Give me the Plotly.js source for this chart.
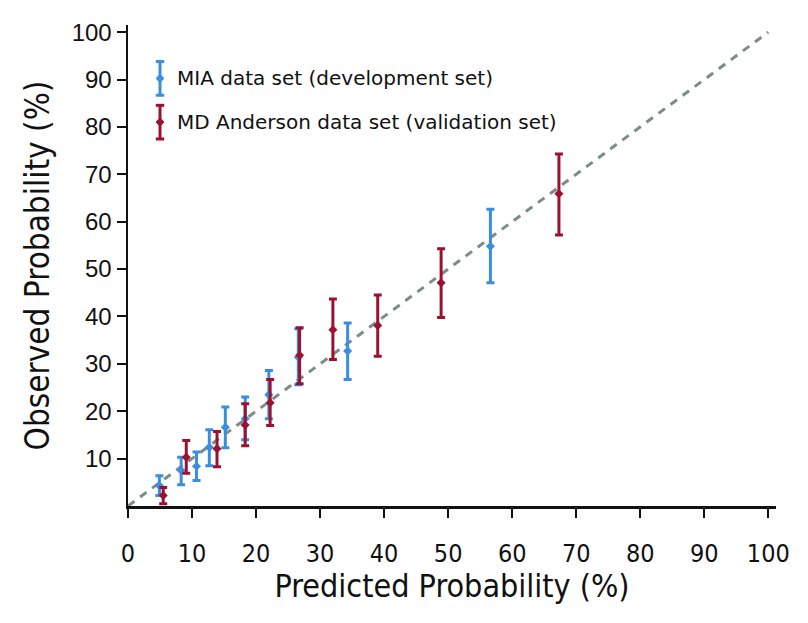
<!DOCTYPE html>
<html>
<head>
<meta charset="utf-8">
<script src="https://cdn.plot.ly/plotly-3.0.1.min.js"></script>
<style>
  html, body { margin: 0; padding: 0; background: #fff; }
  #chart { width: 808px; height: 623px; }
</style>
</head>
<body>
<div id="chart"></div>
<script>
// MIA data set (development set)
const miaPred = [4.9, 8.3, 10.7, 12.7, 15.2, 18.3, 22.0, 26.6, 34.3, 56.6];
const miaObs  = [4.3, 7.5, 8.4, 12.4, 16.6, 18.4, 23.5, 31.4, 32.7, 54.8];
const miaHigh = [6.4, 10.3, 11.4, 16.1, 20.9, 23.0, 28.6, 37.4, 38.6, 62.6];
const miaLow  = [2.2, 4.5, 5.4, 8.5, 12.3, 14.0, 18.4, 25.6, 26.7, 47.1];

// MD Anderson data set (validation set)
const mdaPred = [5.5, 9.1, 13.9, 18.3, 22.2, 26.8, 32.0, 39.0, 48.9, 67.3];
const mdaObs  = [2.2, 10.3, 12.1, 17.1, 21.8, 31.8, 37.2, 38.1, 47.1, 65.9];
const mdaHigh = [3.9, 13.8, 15.7, 21.6, 26.7, 37.6, 43.7, 44.5, 54.3, 74.3];
const mdaLow  = [0.5, 6.9, 8.3, 12.7, 17.0, 25.8, 30.9, 31.6, 39.8, 57.2];

// perfect calibration line
const diagonal = [0, 100];

const xTicks = [0, 10, 20, 30, 40, 50, 60, 70, 80, 90, 100];
const yTicks = [10, 20, 30, 40, 50, 60, 70, 80, 90, 100];

const seriesNames = ['MIA data set (development set)', 'MD Anderson data set (validation set)'];

const BLUE = '#3a8ee0';
const RED = '#9b1230';
const seriesColors = [BLUE, RED];

function errorBars(obs, high, low, color) {
  return {
    type: 'data',
    symmetric: false,
    array: high.map((h, i) => h - obs[i]),
    arrayminus: low.map((l, i) => obs[i] - l),
    color: color,
    thickness: 3,
    width: 4
  };
}

const traces = [
  {
    x: diagonal, y: diagonal,
    type: 'scatter', mode: 'lines',
    line: {color: '#7c8c88', width: 3, dash: '8px,7px'},
    hoverinfo: 'skip'
  },
  {
    x: miaPred, y: miaObs,
    type: 'scatter', mode: 'markers',
    name: seriesNames[0],
    marker: {symbol: 'diamond', size: 7, color: BLUE},
    error_y: errorBars(miaObs, miaHigh, miaLow, BLUE)
  },
  {
    x: mdaPred, y: mdaObs,
    type: 'scatter', mode: 'markers',
    name: seriesNames[1],
    marker: {symbol: 'diamond', size: 7, color: RED},
    error_y: errorBars(mdaObs, mdaHigh, mdaLow, RED)
  }
];

// hand-made legend: error-bar glyph (shapes) + label (annotation), paper coords
const legendX = 0.0494;      // glyph centre
const legendTextX = 0.0725;
const legendRows = [0.889, 0.798];
const glyphHalf = 0.035, capHalf = 0.0065, dHalfX = 0.0062, dHalfY = 0.0083;

const shapes = [];
const annotations = [];
legendRows.forEach((ly, i) => {
  const c = seriesColors[i];
  const line = {color: c, width: 3};
  shapes.push({type: 'line', xref: 'paper', yref: 'paper',
    x0: legendX, x1: legendX, y0: ly - glyphHalf, y1: ly + glyphHalf, line: line});
  shapes.push({type: 'line', xref: 'paper', yref: 'paper',
    x0: legendX - capHalf, x1: legendX + capHalf, y0: ly + glyphHalf, y1: ly + glyphHalf, line: line});
  shapes.push({type: 'line', xref: 'paper', yref: 'paper',
    x0: legendX - capHalf, x1: legendX + capHalf, y0: ly - glyphHalf, y1: ly - glyphHalf, line: line});
  shapes.push({type: 'path', xref: 'paper', yref: 'paper',
    path: `M ${legendX - dHalfX},${ly} L ${legendX},${ly + dHalfY} L ${legendX + dHalfX},${ly} L ${legendX},${ly - dHalfY} Z`,
    fillcolor: c, line: {color: c, width: 1}});
  annotations.push({
    xref: 'paper', yref: 'paper', x: legendTextX, y: ly,
    xanchor: 'left', yanchor: 'middle', showarrow: false,
    text: seriesNames[i],
    font: {family: '"DejaVu Sans", Arial, sans-serif', size: 20, color: '#111'}
  });
});

const condensed = '"Liberation Sans Narrow", "DejaVu Sans Condensed", Arial, sans-serif';

const layout = {
  width: 808,
  height: 623,
  margin: {l: 128, r: 32, t: 25, b: 117},
  paper_bgcolor: '#fff',
  plot_bgcolor: '#fff',
  showlegend: false,
  shapes: shapes,
  annotations: annotations,
  xaxis: {
    range: [0, 101.2],
    tickvals: xTicks,
    ticks: 'outside', ticklen: 9, tickwidth: 2, tickcolor: '#111',
    showline: true, linewidth: 2.5, linecolor: '#111',
    showgrid: false, zeroline: false,
    ticklabelstandoff: 14,
    tickfont: {family: condensed, size: 25, color: '#111'},
    title: {text: 'Predicted Probability (%)', standoff: 4,
            font: {family: condensed, size: 32, color: '#111'}}
  },
  yaxis: {
    range: [0, 101.5],
    tickvals: yTicks,
    ticks: 'outside', ticklen: 9, tickwidth: 2, tickcolor: '#111',
    showline: true, linewidth: 2.5, linecolor: '#111',
    showgrid: false, zeroline: false,
    ticklabelstandoff: 0,
    tickfont: {family: 'Liberation Sans, Arial, sans-serif', size: 24, color: '#111'},
    title: {text: 'Observed Probability (%)', standoff: 12,
            font: {family: condensed, size: 33, color: '#111'}}
  }
};

Plotly.newPlot('chart', traces, layout, {displayModeBar: false, staticPlot: true});
</script>
</body>
</html>
